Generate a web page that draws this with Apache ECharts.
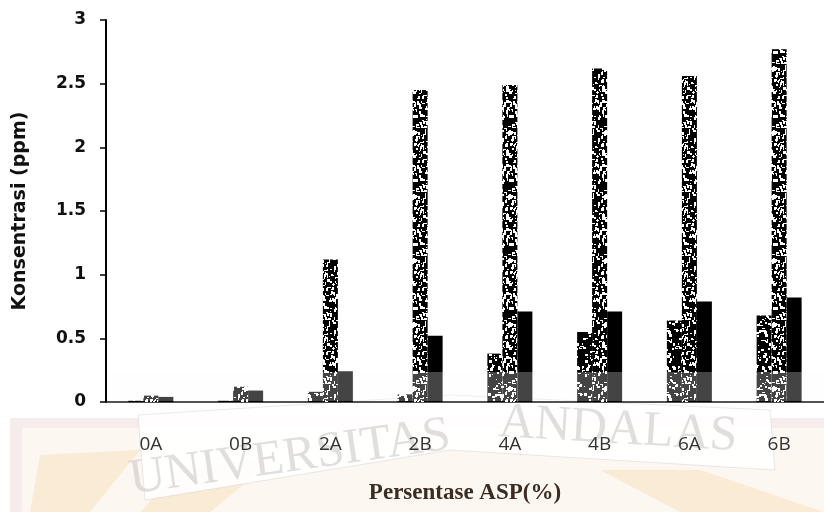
<!DOCTYPE html>
<html><head><meta charset="utf-8">
<script src="https://cdn.jsdelivr.net/npm/echarts@6/dist/echarts.min.js"></script>
<style>html,body{margin:0;padding:0;background:#fff}#c{width:824px;height:512px}</style>
</head><body><div id="c"></div>
<script>
const categories = ['0A', '0B', '2A', '2B', '4A', '4B', '6A', '6B'];
const seriesShort = [0.01, 0.01, 0.08, 0.06, 0.38, 0.55, 0.64, 0.68];
const seriesTall = [0.05, 0.12, 1.12, 2.45, 2.49, 2.62, 2.56, 2.77];
const seriesBlack = [0.04, 0.09, 0.24, 0.52, 0.71, 0.71, 0.79, 0.82];
const yMin = 0, yMax = 3, yStep = 0.5;

function speckle(seed, n) {
  const c = document.createElement('canvas');
  c.width = 24; c.height = 64;
  const g = c.getContext('2d');
  g.fillStyle = '#000'; g.fillRect(0, 0, 24, 64);
  g.fillStyle = '#fff';
  let s = seed;
  const r = () => { s = (s * 16807) % 2147483647; return s / 2147483647; };
  for (let i = 0; i < n; i++) {
    const x = Math.floor(r() * 24), y = Math.floor(r() * 64);
    const w = 1 + Math.floor(r() * 3), h = 1 + Math.floor(r() * 3);
    g.fillRect(x, y, w, h);
  }
  return c;
}
const patShort = speckle(12345, 90);
const patTall = speckle(67891, 160);

const chart = echarts.init(document.getElementById('c'), null, {renderer: 'canvas'});
const W = 824, H = 512;
chart.setOption({
  backgroundColor: '#ffffff',
  animation: false,
  grid: {left: 106, right: -10, top: 20, bottom: 110, containLabel: false},
  xAxis: {
    type: 'category', data: categories,
    axisLine: {lineStyle: {color: '#1a1a1a', width: 1.5}},
    axisTick: {show: false},
    axisLabel: {margin: 33, fontFamily: 'Open Sans', fontSize: 19, color: '#333'},
    name: 'Persentase ASP(%)', nameLocation: 'middle', nameGap: 80,
    nameTextStyle: {fontFamily: 'Liberation Serif', fontWeight: 'bold', fontSize: 23, color: '#3b2c24'}
  },
  yAxis: {
    type: 'value', min: yMin, max: yMax, interval: yStep,
    axisLine: {show: true, lineStyle: {color: '#000', width: 2}},
    axisTick: {show: true, length: 6, lineStyle: {color: '#000', width: 1.5}},
    splitLine: {show: false},
    axisLabel: {margin: 20, fontFamily: 'DejaVu Sans', fontWeight: 'bold', fontSize: 17, color: '#111'},
    name: 'Konsentrasi (ppm)', nameLocation: 'middle', nameGap: 76, nameRotate: 90,
    nameTextStyle: {fontFamily: 'DejaVu Sans', fontWeight: 'bold', fontSize: 19, color: '#111'}
  },
  series: [
    {type: 'bar', data: seriesShort, barWidth: 15, barGap: '0%', itemStyle: {color: {image: patShort, repeat: 'repeat'}}},
    {type: 'bar', data: seriesTall, barWidth: 15, barGap: '0%', itemStyle: {color: {image: patTall, repeat: 'repeat'}}},
    {type: 'bar', data: seriesBlack, barWidth: 15, barGap: '0%', itemStyle: {color: '#000'}}
  ],
  graphic: [
    {type: 'rect', z: -20, silent: true, shape: {x: 10, y: 418, width: W - 10, height: H - 418},
     style: {fill: '#f7ecec'}},
    {type: 'rect', z: -19, silent: true, shape: {x: 22, y: 428, width: W - 22, height: H - 428},
     style: {fill: '#fcf7f0'}},
    {type: 'polygon', z: -18, silent: true,
     shape: {points: [[40, 455], [140, 450], [90, 512], [30, 512]]},
     style: {fill: 'rgba(247,226,190,0.55)'}},
    {type: 'polygon', z: -18, silent: true,
     shape: {points: [[180, 470], [280, 455], [210, 512], [140, 512]]},
     style: {fill: 'rgba(247,226,190,0.55)'}},
    {type: 'polygon', z: -18, silent: true,
     shape: {points: [[600, 470], [700, 470], [824, 512], [680, 512]]},
     style: {fill: 'rgba(247,226,190,0.55)'}},
    {type: 'polygon', z: -17, silent: true,
     shape: {points: [[138, 415], [450, 395], [770, 410], [775, 470], [450, 450], [145, 500]]},
     style: {fill: 'rgba(255,255,255,0.9)', stroke: 'rgba(215,210,210,0.5)', lineWidth: 1}},
    {type: 'text', z: -16, silent: true, x: 290, y: 458, rotation: 0.14,
     style: {text: 'UNIVERSITAS', fontFamily: 'Liberation Serif', fontSize: 50, fill: 'rgba(205,200,200,0.6)', align: 'center', verticalAlign: 'middle'}},
    {type: 'text', z: -16, silent: true, x: 618, y: 430, rotation: -0.06,
     style: {text: 'ANDALAS', fontFamily: 'Liberation Serif', fontSize: 50, fill: 'rgba(205,200,200,0.6)', align: 'center', verticalAlign: 'middle'}},
    {type: 'rect', z: 100, silent: true, shape: {x: 108, y: 372, width: W - 108, height: 29},
     style: {fill: 'rgba(255,252,250,0.27)'}}
  ]
});
</script></body></html>
